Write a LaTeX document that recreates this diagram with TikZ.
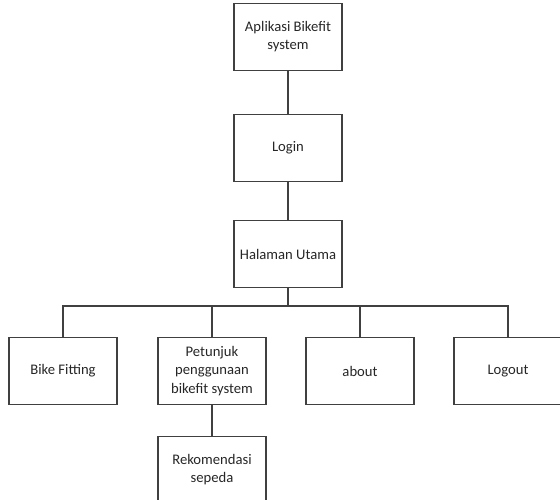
\documentclass[tikz,border=0pt]{standalone}
\usepackage{fontspec}
\setmainfont{Carlito}
\usetikzlibrary{positioning}

\begin{document}
\begin{tikzpicture}[x=0.03cm,y=-0.03cm,
    box/.style={shape=rectangle,draw=black!75,line width=0.9pt,minimum width=3.24cm,minimum height=2cm,align=center,font=\fontsize{12.5}{15.5}\selectfont,text=black!85},
    link/.style={draw=black!75,line width=0.9pt}]
    \useasboundingbox (0,0) rectangle (560,499);
    \node[box] (App) at (288,37) {Aplikasi Bikefit\\system};
    \node[box] (Login) at (288,148) {Login};
    \node[box] (Utama) at (288,254) {Halaman Utama};
    \node[box] (Fitting) at (63,371) {Bike Fitting};
    \node[box] (Petunjuk) at (212,371) {Petunjuk\\penggunaan\\bikefit system};
    \node[box] (About) at (360,371) {about};
    \node[box] (Logout) at (508,371) {Logout};
    \node[box] (Rekom) at (212,470) {Rekomendasi\\sepeda};
    \coordinate (bus) at (288,306);

    \path [link] (App) edge (Login);
    \path [link] (Login) edge (Utama);
    \draw [link] (Utama) -- (bus);
    \draw [link] (bus) -| (Fitting.north);
    \draw [link] (bus) -| (Petunjuk.north);
    \draw [link] (bus) -| (About.north);
    \draw [link] (bus) -| (Logout.north);
    \path [link] (Petunjuk) edge (Rekom);
\end{tikzpicture}
\end{document}
